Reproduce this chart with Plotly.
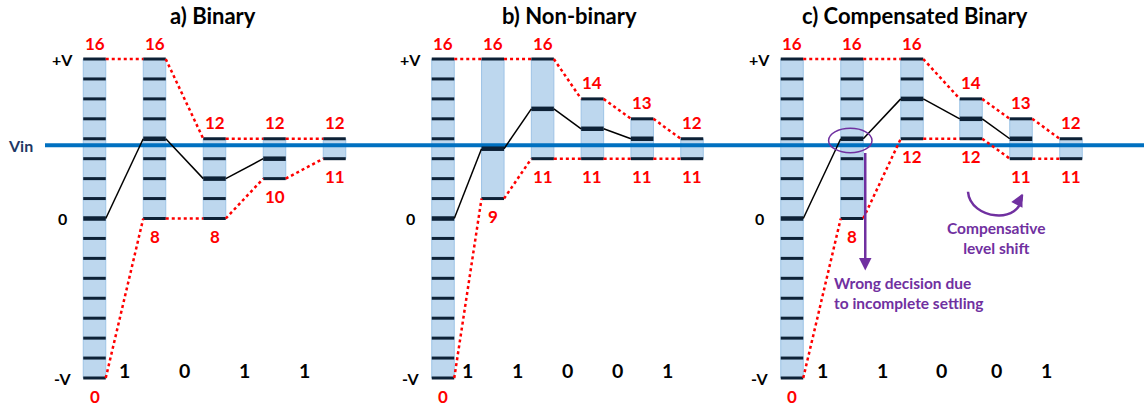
import plotly.graph_objects as go

# ---------------------------------------------------------------------------
# SAR residue ranges for each conversion cycle, in DAC levels (0 .. 16,
# 16 = +V, 8 = mid-scale "0", 0 = -V).  dec = comparator threshold level.
# ---------------------------------------------------------------------------
bin_low = [0, 8, 8, 10, 11]
bin_high = [16, 16, 12, 12, 12]
bin_dec = [8, 12, 10, 11, None]
bin_unit_ticks = [True, True, True, True, True]
bin_bits = ["1", "0", "1", "1"]

nb_low = [0, 9, 11, 11, 11, 11]
nb_high = [16, 16, 16, 14, 13, 12]
nb_dec = [8, 11.5, 13.5, 12.5, 12, None]
nb_unit_ticks = [True, False, False, False, False, False]
nb_bits = ["1", "1", "0", "0", "1"]

cb_low = [0, 8, 12, 12, 11, 11]
cb_high = [16, 16, 16, 14, 13, 12]
cb_dec = [8, 12, 14, 13, 12, None]
cb_unit_ticks = [True, True, True, True, True, True]
cb_bits = ["1", "1", "0", "0", "1"]

vin_level = 11.67
scale_labels = ["+V", "0", "-V"]
scale_levels = [16, 8, 0]
panel_titles = ["a) Binary", "b) Non-binary", "c) Compensated Binary"]

# ---------------------------------------------------------------------------
# Layout (pixel geometry of the canvas)
# ---------------------------------------------------------------------------
W, H = 1144, 408
PX_TOP, PX_BOTTOM = 59.0, 378.0          # pixel rows of level 16 and level 0
UNIT = (PX_BOTTOM - PX_TOP) / 16.0       # pixels per level
Y_RANGE = [-(H - PX_BOTTOM) / UNIT, 16 + PX_TOP / UNIT]

BAR_W = 22.5
panel_bar_x = [
    [94.5, 154.5, 214.5, 274.5, 334.5],
    [443.0, 492.8, 542.6, 592.4, 642.2, 692.0],
    [792.0, 852.0, 912.0, 971.0, 1021.0, 1071.0],
]
title_x = [212.5, 569.0, 915.0]
VIN_X0 = 45

BAR_FILL = "#bdd7ee"
BAR_EDGE = "#9dc3e6"
TICK_COL = "#0d2136"
RED = "#ff0000"
PURPLE = "#7030a0"
VIN_COL = "#0070c0"
VIN_TEXT = "#1f3864"
FONT = "Lato"

SZ_TITLE, SZ_RANGE, SZ_BIT, SZ_SCALE, SZ_NOTE = 22, 17, 19.5, 16, 15.5

panels = [
    (bin_low, bin_high, bin_dec, bin_unit_ticks, bin_bits),
    (nb_low, nb_high, nb_dec, nb_unit_ticks, nb_bits),
    (cb_low, cb_high, cb_dec, cb_unit_ticks, cb_bits),
]


def lvl(px_offset):
    """Convert a pixel distance into level units."""
    return px_offset / UNIT


def bold(t):
    return f"<b>{t}</b>"


fig = go.Figure()
annotations = []

# bars
for (low, high, dec, unit, bits), xs in zip(panels, panel_bar_x):
    fig.add_trace(go.Bar(
        x=xs, y=[h - l for l, h in zip(low, high)], base=low, width=BAR_W,
        marker=dict(color=BAR_FILL, line=dict(color=BAR_EDGE, width=1)),
        hoverinfo="skip", showlegend=False,
    ))

# input voltage line
fig.add_trace(go.Scatter(
    x=[VIN_X0, W], y=[vin_level, vin_level], mode="lines",
    line=dict(color=VIN_COL, width=4), hoverinfo="skip", showlegend=False,
))

for (low, high, dec, unit, bits), xs in zip(panels, panel_bar_x):
    # level ticks on each bar
    tx, ty, kx, ky = [], [], [], []
    for i, x in enumerate(xs):
        if unit[i]:
            levels = list(range(int(low[i]), int(high[i]) + 1))
        else:
            levels = [low[i], high[i]]
        for lv in levels:
            if dec[i] is not None and lv == dec[i]:
                continue
            tx += [x - BAR_W / 2, x + BAR_W / 2, None]
            ty += [lv, lv, None]
        if dec[i] is not None:
            kx += [x - BAR_W / 2, x + BAR_W / 2, None]
            ky += [dec[i], dec[i], None]
    fig.add_trace(go.Scatter(x=tx, y=ty, mode="lines",
                             line=dict(color=TICK_COL, width=3),
                             hoverinfo="skip", showlegend=False))
    fig.add_trace(go.Scatter(x=kx, y=ky, mode="lines",
                             line=dict(color=TICK_COL, width=4.5),
                             hoverinfo="skip", showlegend=False))

    # range envelope (red dotted)
    rx, ry = [], []
    for i in range(len(xs) - 1):
        for arr in (high, low):
            rx += [xs[i] + BAR_W / 2, xs[i + 1] - BAR_W / 2, None]
            ry += [arr[i], arr[i + 1], None]
    fig.add_trace(go.Scatter(x=rx, y=ry, mode="lines",
                             line=dict(color=RED, width=2.5, dash="dot"),
                             hoverinfo="skip", showlegend=False))

    # residue path (black)
    px_, py_ = [], []
    for i in range(len(xs) - 1):
        if dec[i] is not None and dec[i + 1] is not None:
            px_ += [xs[i] + BAR_W / 2, xs[i + 1] - BAR_W / 2, None]
            py_ += [dec[i], dec[i + 1], None]
    fig.add_trace(go.Scatter(x=px_, y=py_, mode="lines",
                             line=dict(color="black", width=1.5),
                             hoverinfo="skip", showlegend=False))

    # range labels
    for i, x in enumerate(xs):
        annotations.append(dict(x=x, y=high[i], yshift=16, text=bold(high[i]),
                                showarrow=False,
                                font=dict(family=FONT, size=SZ_RANGE, color=RED)))
        annotations.append(dict(x=x, y=low[i], yshift=-18, text=bold(low[i]),
                                showarrow=False,
                                font=dict(family=FONT, size=SZ_RANGE, color=RED)))

    # decision bits between cycles
    for i, b in enumerate(bits):
        annotations.append(dict(x=(xs[i] + xs[i + 1]) / 2, y=0, yshift=7.5,
                                text=bold(b), showarrow=False,
                                font=dict(family=FONT, size=SZ_BIT, color="black")))

    # full-scale labels
    for t, lv in zip(scale_labels, scale_levels):
        annotations.append(dict(x=xs[0] - BAR_W / 2 - 21, y=lv, text=bold(t),
                                showarrow=False,
                                font=dict(family=FONT, size=SZ_SCALE, color="black")))

# panel titles
for t, x in zip(panel_titles, title_x):
    annotations.append(dict(x=x, y=Y_RANGE[1] - lvl(15), text=bold(t),
                            showarrow=False,
                            font=dict(family=FONT, size=SZ_TITLE, color="black")))

# Vin label
annotations.append(dict(x=20, y=vin_level, text=bold("Vin"), showarrow=False,
                        font=dict(family=FONT, size=SZ_SCALE, color=VIN_TEXT)))

# --- compensated-binary callouts -------------------------------------------
cx = panel_bar_x[2]
shapes = []
# highlight of the mis-settled decision in cycle 2
ell_cy = cb_dec[1] - lvl(1.8)
shapes.append(dict(type="circle", xref="x", yref="y",
                   x0=cx[1] - 1.7 - 21.7, x1=cx[1] - 1.7 + 21.7,
                   y0=ell_cy - lvl(12.2), y1=ell_cy + lvl(12.2),
                   line=dict(color=PURPLE, width=1.5)))
arrow_x = cx[1] + BAR_W / 2 + 2
annotations.append(dict(x=arrow_x, y=ell_cy - lvl(130), ax=0, ay=-119,
                        text="", showarrow=True, arrowhead=2, arrowsize=1,
                        arrowwidth=2.5, arrowcolor=PURPLE))
annotations.append(dict(x=cx[1] - 20.5, y=ell_cy - lvl(152), xanchor="left",
                        align="left",
                        text=bold("Wrong decision due<br>to incomplete settling"),
                        showarrow=False,
                        font=dict(family=FONT, size=SZ_NOTE, color=PURPLE)))

# curved arrow for the level shift between cycles 4 and 5
sx, ex = cx[3] - 3, cx[4] + 1
sy, ey = cb_low[3] - lvl(53), cb_low[4] - lvl(36)
depth = lvl(28)
shapes.append(dict(type="path", xref="x", yref="y",
                   path=f"M {sx},{sy} C {sx + 2},{sy - depth} {ex},{ey - depth - lvl(3)} {ex},{ey}",
                   line=dict(color=PURPLE, width=2.5)))
annotations.append(dict(x=ex + 0.5, y=ey + lvl(1), ax=-4, ay=8, text="",
                        showarrow=True, arrowhead=2, arrowsize=1,
                        arrowwidth=2.5, arrowcolor=PURPLE))
annotations.append(dict(x=(cx[3] + cx[4]) / 2, y=cb_low[3] - lvl(99),
                        text=bold("Compensative<br>level shift"),
                        showarrow=False,
                        font=dict(family=FONT, size=SZ_NOTE, color=PURPLE)))

for a in annotations:
    a.setdefault("xref", "x")
    a.setdefault("yref", "y")

fig.update_layout(
    width=W, height=H, margin=dict(l=0, r=0, t=0, b=0),
    paper_bgcolor="white", plot_bgcolor="white",
    barmode="overlay", showlegend=False,
    font=dict(family=FONT),
    xaxis=dict(range=[0, W], visible=False, fixedrange=True),
    yaxis=dict(range=Y_RANGE, visible=False, fixedrange=True),
    annotations=annotations, shapes=shapes,
)

fig.write_html("out.html")
